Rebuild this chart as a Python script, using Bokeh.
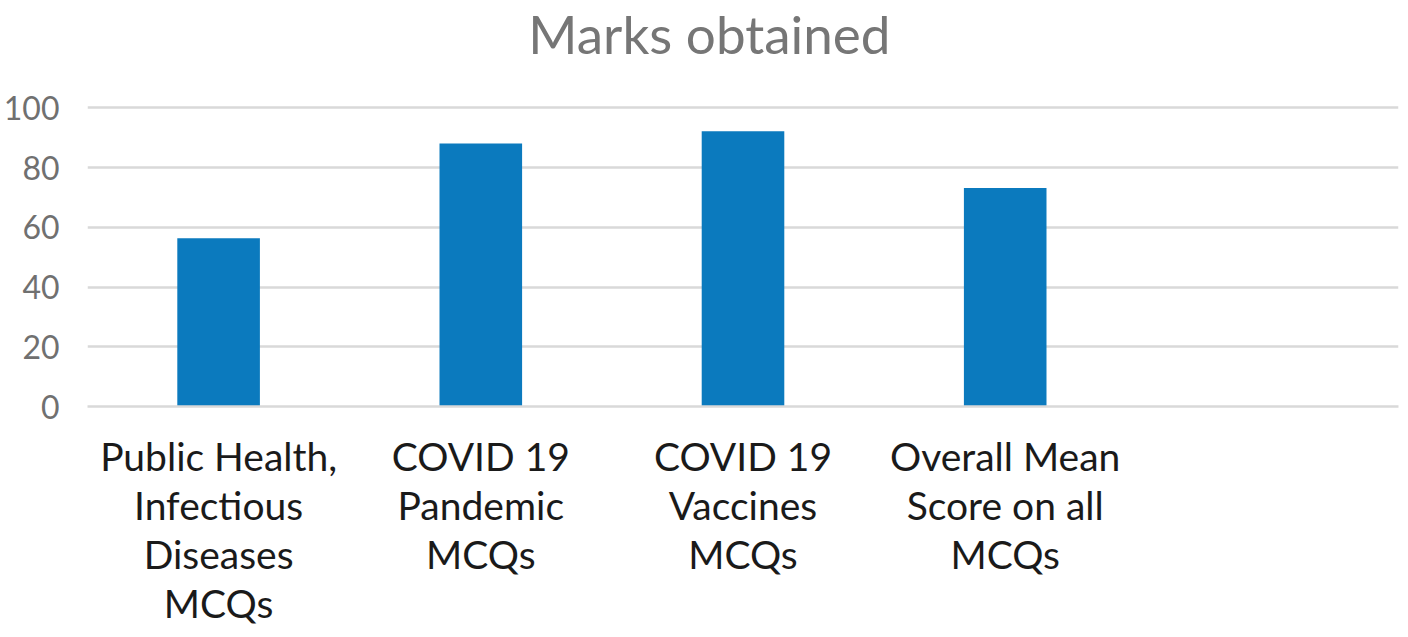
from bokeh.plotting import figure
from bokeh.models import FactorRange, Range1d, FixedTicker, Label
from bokeh.embed import file_html
from bokeh.resources import INLINE

categories = ["Public Health,\nInfectious\nDiseases\nMCQs",
              "COVID 19\nPandemic\nMCQs",
              "COVID 19\nVaccines\nMCQs",
              "Overall Mean\nScore on all\nMCQs",
              " "]
bar_categories = categories[:4]
marks = [56.4, 88.1, 92.2, 73.2]
y_ticks = [0, 20, 40, 60, 80, 100]
title_text = "Marks obtained"

FONT = "Lato"

# frame extends above 100 so the chart title sits inside the canvas top area
p = figure(width=1400, height=629, output_backend="svg", toolbar_location=None,
           x_range=FactorRange(factors=categories, range_padding=0),
           y_range=Range1d(0, 136.0),
           min_border_left=0, min_border_right=2, min_border_top=0, min_border_bottom=222)

p.vbar(x=bar_categories, top=marks, width=0.315, color="#0B7ABE", line_color=None)

title = Label(x=2.372, y=125.0, text=title_text, text_align="center",
              text_baseline="alphabetic", text_font=FONT, text_font_size="53px",
              text_color="#767676")
p.add_layout(title)

p.outline_line_color = None
p.xgrid.grid_line_color = None
p.ygrid.grid_line_color = "#D9D9D9"
p.ygrid.grid_line_width = 2.5
p.yaxis.ticker = FixedTicker(ticks=y_ticks)

p.yaxis.axis_line_color = None
p.yaxis.major_tick_line_color = None
p.yaxis.minor_tick_line_color = None
p.yaxis.major_tick_out = 0
p.yaxis.major_label_standoff = 28
p.yaxis.major_label_text_font = FONT
p.yaxis.major_label_text_font_size = "32px"
p.yaxis.major_label_text_color = "#707070"

p.xaxis.axis_line_color = "#D9D9D9"
p.xaxis.axis_line_width = 2.5
p.xaxis.major_tick_line_color = None
p.xaxis.major_tick_out = 0
p.xaxis.major_label_standoff = 26
p.xaxis.major_label_text_font = FONT
p.xaxis.major_label_text_font_size = "39px"
p.xaxis.major_label_text_color = "#1A1A1A"
p.xaxis.major_label_text_line_height = 1.07

open("out.html", "w").write(file_html(p, INLINE))
